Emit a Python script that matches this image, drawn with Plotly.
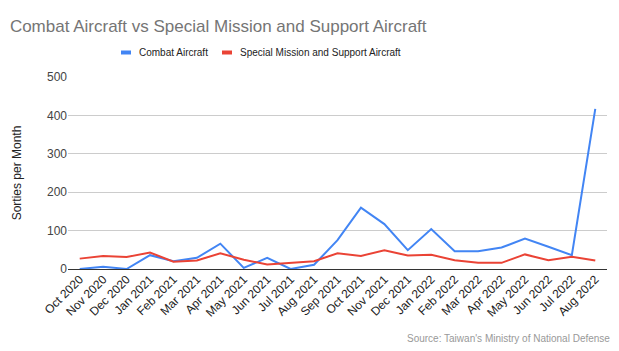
import plotly.graph_objects as go

months = ["Oct 2020", "Nov 2020", "Dec 2020", "Jan 2021", "Feb 2021", "Mar 2021", "Apr 2021",
          "May 2021", "Jun 2021", "Jul 2021", "Aug 2021", "Sep 2021", "Oct 2021", "Nov 2021",
          "Dec 2021", "Jan 2022", "Feb 2022", "Mar 2022", "Apr 2022", "May 2022", "Jun 2022",
          "Jul 2022", "Aug 2022"]
combat = [0, 6, 0, 36, 20, 29, 66, 3, 29, 0, 11, 75, 160, 117, 49, 104, 46, 46, 56, 79, 58, 36, 417]
special = [27, 34, 31, 43, 19, 22, 41, 24, 12, 16, 20, 41, 34, 49, 35, 37, 23, 16, 16, 38, 23, 32, 22]
series_names = ["Combat Aircraft", "Special Mission and Support Aircraft"]
series_colors = ["#4285F4", "#EA4335"]

FONT = "Liberation Sans, Arial, sans-serif"
W, H = 619, 351
ML, MR, MT, MB = 68, 12, 77, 82
PW, PH = W - ML - MR, H - MT - MB

def px_x(x):
    return (x - ML) / PW

def px_y(y):
    return (H - MB - y) / PH

fig = go.Figure()
for vals, name, col in zip([combat, special], series_names, series_colors):
    fig.add_trace(go.Scatter(x=months, y=vals, mode="lines", name=name,
                             line=dict(color=col, width=2), showlegend=False))

# custom legend (swatch + label) to mimic the compact Google Sheets legend
shapes = []
annotations = []
legend_swatch_x = [121, 222]
for sx, name, col in zip(legend_swatch_x, series_names, series_colors):
    shapes.append(dict(type="rect", xref="paper", yref="paper",
                       x0=px_x(sx), x1=px_x(sx + 10), y0=px_y(54.5), y1=px_y(50.5),
                       fillcolor=col, line=dict(width=0)))
    annotations.append(dict(text=name, xref="paper", yref="paper", x=px_x(sx + 16), y=px_y(52.5),
                            xanchor="left", yanchor="middle", showarrow=False,
                            font=dict(family=FONT, size=10, color="#222222")))

annotations.append(dict(text="Source: Taiwan's Ministry of National Defense", xref="paper", yref="paper",
                        x=px_x(612), y=px_y(331), xanchor="right", yanchor="top", showarrow=False,
                        font=dict(family=FONT, size=10, color="#999999")))

fig.update_layout(
    width=W, height=H,
    margin=dict(l=ML, r=MR, t=MT, b=MB),
    paper_bgcolor="white", plot_bgcolor="white",
    font=dict(family=FONT, size=12, color="#444444"),
    title=dict(text="Combat Aircraft vs Special Mission and Support Aircraft",
               x=0.016, xanchor="left", y=0.925, yanchor="middle",
               font=dict(family=FONT, size=17, color="#757575")),
    showlegend=False,
    xaxis=dict(type="category", range=[-0.5, 22.5], tickangle=-45, showgrid=False,
               showline=False, ticks="", tickfont=dict(size=12, color="#222222")),
    yaxis=dict(range=[0, 500], dtick=100, showgrid=True, gridcolor="#cccccc", gridwidth=1,
               zeroline=True, zerolinecolor="#333333", zerolinewidth=1,
               ticks="", tickfont=dict(size=12, color="#444444"),
               title=dict(text="Sorties per Month", font=dict(size=12, color="#222222"), standoff=22)),
    shapes=shapes,
    annotations=annotations,
)

fig.write_html("out.html")
